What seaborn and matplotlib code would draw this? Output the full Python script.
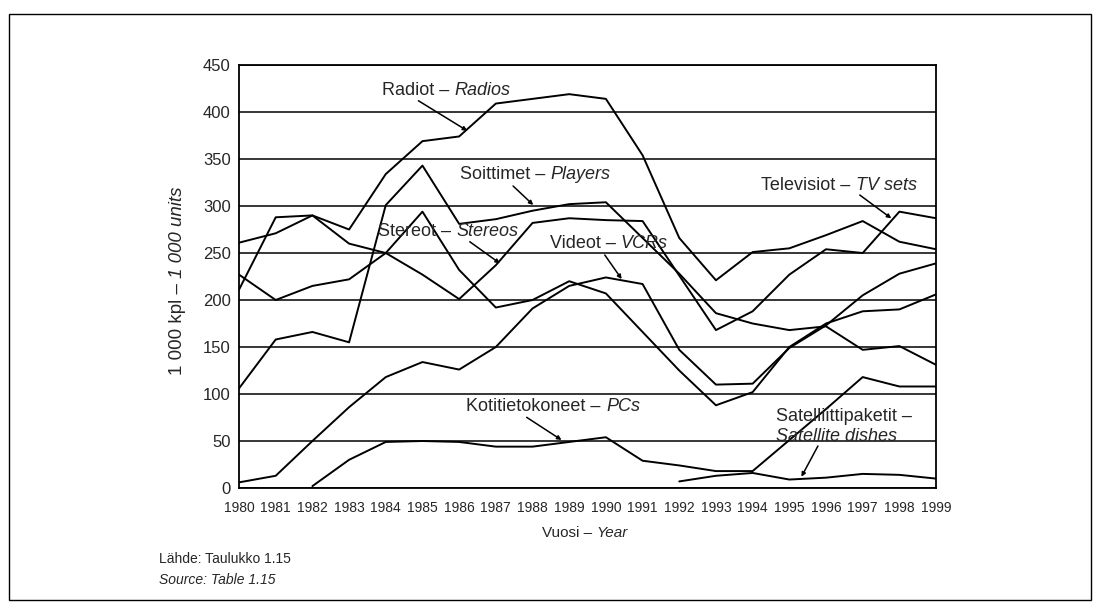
import numpy as np
import pandas as pd
import matplotlib
matplotlib.use('Agg')
import matplotlib.pyplot as plt
import seaborn as sns
from matplotlib.patches import Rectangle

# values (1 000 units)
years = list(range(1980, 2000))
radiot = [261, 271, 290, 275, 334, 369, 374, 409, 414, 419, 414, 354, 266, 221, 251, 255, 269, 284, 262, 254]
soittimet = [106, 158, 166, 155, 301, 343, 281, 286, 295, 302, 304, 266, 228, 186, 175, 168, 172, 147, 151, 131]
stereot = [211, 288, 290, 260, 250, 227, 201, 237, 282, 287, 285, 284, 226, 168, 188, 227, 254, 250, 294, 287]
televisiot = [227, 200, 215, 222, 250, 294, 232, 192, 200, 220, 207, 166, 125, 88, 102, 150, 175, 188, 190, 206]
videot = [6, 13, 50, 86, 118, 134, 126, 150, 191, 215, 224, 217, 147, 110, 111, 149, 173, 205, 228, 239]
kotitietokoneet = [np.nan, np.nan, 2, 30, 49, 50, 49, 44, 44, 49, 54, 29, 24, 18, 18, 51, 84, 118, 108, 108]
satelliitti = [np.nan] * 12 + [7, 13, 16, 9, 11, 15, 14, 10]

y_ticks = list(range(0, 451, 50))

series = {
    'radiot': radiot,
    'soittimet': soittimet,
    'stereot': stereot,
    'televisiot': televisiot,
    'videot': videot,
    'kotitietokoneet': kotitietokoneet,
    'satelliitti': satelliitti,
}
df = pd.concat(
    [pd.DataFrame({'year': years, 'value': v, 'series': k}) for k, v in series.items()]
).dropna()

sns.set_style('white')
plt.rcParams['font.family'] = ['Liberation Sans', 'DejaVu Sans']

fig = plt.figure(figsize=(11.01, 6.10), dpi=100)
ax = fig.add_axes([0.2171, 0.2, 0.6331, 0.6934])

# horizontal grid first so the lines sit on top
for t in y_ticks:
    ax.axhline(t, color='black', lw=1.1, zorder=1)

sns.lineplot(data=df, x='year', y='value', units='series', estimator=None,
             color='black', lw=1.4, ax=ax, zorder=3, legend=False)

ax.set_xlim(1980, 1999)
ax.set_ylim(0, 450)
ax.set_xticks(years)
ax.set_xticklabels([str(y) for y in years], fontsize=10)
ax.set_yticks(y_ticks)
ax.set_yticklabels([str(t) for t in y_ticks], fontsize=12)
ax.tick_params(axis='x', length=0, pad=9)
ax.tick_params(axis='y', length=0, pad=6)
ax.set_xlabel('')
ax.set_ylabel('')
for s in ax.spines.values():
    s.set_color('black')
    s.set_linewidth(1.3)


def label(host, x, y, plain, italic, size, rotation=0, **extra):
    # plain part followed by an italic part, glued to its bounding box
    kw = dict(fontsize=size, rotation=rotation)
    if rotation:
        t = host.text(x, y, plain, ha='center', va='bottom', **kw, **extra)
        ax.annotate(italic, xy=(0.5, 1), xycoords=t, ha='center', va='bottom',
                    style='italic', **kw)
    else:
        t = host.text(x, y, plain, ha='left', va='center', **kw, **extra)
        ax.annotate(italic, xy=(1, 0), xycoords=t, ha='left', va='bottom',
                    style='italic', **kw)
    return t


arrow = dict(arrowstyle='-|>', color='black', lw=1.1, mutation_scale=6, shrinkA=0, shrinkB=0)
fs = 13

label(ax, 1983.89, 423.4, 'Radiot – ', 'Radios', fs)
ax.annotate('', xy=(1986.22, 380.1), xytext=(1984.89, 412.0), arrowprops=arrow)

label(ax, 1986.02, 333.7, 'Soittimet – ', 'Players', fs)
ax.annotate('', xy=(1988.02, 301.1), xytext=(1987.47, 321.3), arrowprops=arrow)

label(ax, 1983.79, 272.7, 'Stereot – ', 'Stereos', fs)
ax.annotate('', xy=(1987.11, 239.0), xytext=(1986.29, 262.0), arrowprops=arrow)

label(ax, 1988.47, 260.3, 'Videot – ', 'VCRs', fs)
ax.annotate('', xy=(1990.43, 222.3), xytext=(1989.97, 247.9), arrowprops=arrow)

label(ax, 1994.24, 322.3, 'Televisiot – ', 'TV sets', fs)
ax.annotate('', xy=(1997.78, 286.9), xytext=(1996.92, 311.7), arrowprops=arrow)

label(ax, 1986.20, 86.5, 'Kotitietokoneet – ', 'PCs', fs)
ax.annotate('', xy=(1988.79, 51.1), xytext=(1987.84, 75.2), arrowprops=arrow)

ax.text(1994.65, 76.6, 'Satelliittipaketit –', fontsize=fs, ha='left', va='center')
ax.text(1994.65, 54.6, 'Satellite dishes', fontsize=fs, ha='left', va='center', style='italic')
ax.annotate('', xy=(1995.33, 12.0), xytext=(1995.78, 44.7), arrowprops=arrow)

# axis titles
label(fig, 542 / 1101, 1 - 533 / 610, 'Vuosi – ', 'Year', 11)
label(fig, 178 / 1101, 1 - 375 / 610, '1 000 kpl – ', '1 000 units', 13.5, rotation=90)

fig.text(159 / 1101, 1 - 559 / 610, 'Lähde: Taulukko 1.15', fontsize=10, va='center')
fig.text(159 / 1101, 1 - 580 / 610, 'Source: Table 1.15', fontsize=10, va='center', style='italic')

# outer frame of the scanned page
fig.patches.append(Rectangle((9 / 1101, 10 / 610), 1082 / 1101, 586 / 610,
                             transform=fig.transFigure, fill=False,
                             edgecolor='black', lw=1.0))

fig.savefig('out.png', dpi=100)
